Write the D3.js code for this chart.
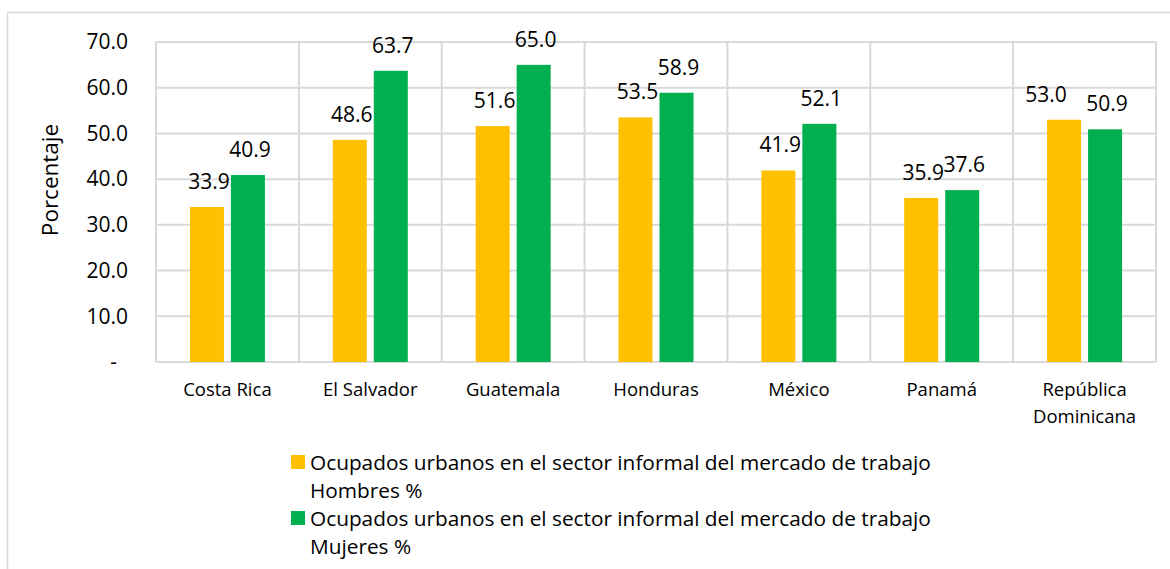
<!DOCTYPE html>
<html>
<head>
<meta charset="utf-8">
<style>
body{
  margin:0;
  background:#fff;
}
text{
  font-family:"Open Sans", sans-serif;
  fill:#000;
}
</style>
</head>
<body>
<svg id="chart"></svg>
<script src="https://cdn.jsdelivr.net/npm/d3@7"></script>
<script>
var categories = ["Costa Rica", "El Salvador", "Guatemala", "Honduras", "México", "Panamá", "República Dominicana"];
var hombres = [33.9, 48.6, 51.6, 53.5, 41.9, 35.9, 53.0];
var mujeres = [40.9, 63.7, 65.0, 58.9, 52.1, 37.6, 50.9];
var seriesNames = [
    ["Ocupados urbanos en el sector informal del mercado de trabajo", "Hombres %"],
    ["Ocupados urbanos en el sector informal del mercado de trabajo", "Mujeres %"]
];
var yTicks = [0, 10, 20, 30, 40, 50, 60, 70];

var width = 1170, height = 569;
var colors = ["#FFC000", "#00B050"];
var grid = "#D9D9D9";

var svg = d3.select("#chart")
    .attr("width", width)
    .attr("height", height);

// outer chart border
svg.append("rect")
    .attr("x", 7.5).attr("y", 12.5)
    .attr("width", 1200).attr("height", 600)
    .attr("fill", "#fff")
    .attr("stroke", grid)
    .attr("stroke-width", 1.5);

var plot = {left: 156, right: 1156, top: 42, bottom: 362};

var x = d3.scaleBand().domain(categories).range([plot.left, plot.right]);
var y = d3.scaleLinear().domain([0, 70]).range([plot.bottom, plot.top]);

// two bars per group: width 34, gap 7
var bw = x.bandwidth();
var step = 41;
var xs = d3.scaleBand().domain([0, 1]).range([0, bw])
    .paddingInner(7 / step)
    .paddingOuter((bw - (2 * step - 7)) / (2 * step));

// horizontal gridlines
svg.append("g")
    .selectAll("line").data(yTicks)
    .enter().append("line")
    .attr("x1", plot.left).attr("x2", plot.right)
    .attr("y1", function (d) { return y(d); })
    .attr("y2", function (d) { return y(d); })
    .attr("stroke", grid).attr("stroke-width", 2);

// vertical gridlines at category boundaries
var bounds = categories.map(function (c) { return x(c); }).concat([plot.right]);
svg.append("g")
    .selectAll("line").data(bounds)
    .enter().append("line")
    .attr("x1", function (d) { return d; }).attr("x2", function (d) { return d; })
    .attr("y1", plot.top).attr("y2", plot.bottom)
    .attr("stroke", grid).attr("stroke-width", 2);

// y axis labels
var yAxis = svg.append("g")
    .attr("transform", "translate(" + plot.left + ",0)")
    .call(d3.axisLeft(y).tickValues(yTicks).tickSize(0).tickPadding(28)
        .tickFormat(function (d) { return d === 0 ? "-" : d3.format(".1f")(d); }));
yAxis.select(".domain").remove();
yAxis.selectAll("text")
    .attr("font-size", "21px")
    .attr("font-family", "Open Sans, sans-serif")
    .attr("fill", "#000")
    .attr("dx", function (d) { return d === 0 ? -11 : 0; });

// y axis title
svg.append("text")
    .attr("transform", "translate(58,180) rotate(-90)")
    .attr("text-anchor", "middle")
    .attr("font-size", "22.5px")
    .text("Porcentaje");

// bars
var groups = [hombres, mujeres];
groups.forEach(function (vals, si) {
    svg.append("g").selectAll("rect").data(vals)
        .enter().append("rect")
        .attr("x", function (d, i) { return x(categories[i]) + xs(si); })
        .attr("y", function (d) { return y(d); })
        .attr("width", xs.bandwidth())
        .attr("height", function (d) { return y(0) - y(d); })
        .attr("fill", colors[si]);

    svg.append("g").selectAll("text").data(vals)
        .enter().append("text")
        .attr("x", function (d, i) {
            var cx = x(categories[i]) + xs(si) + xs.bandwidth() / 2 + 2;
            // first label nudged left when it sits above its neighbour
            if (si === 0 && d > mujeres[i]) cx -= 20;
            return cx;
        })
        .attr("y", function (d) { return y(d) - 18; })
        .attr("text-anchor", "middle")
        .attr("font-size", "21px")
        .text(function (d) { return d3.format(".1f")(d); });
});

// category labels, wrapped when too wide
var catG = svg.append("g");
categories.forEach(function (c) {
    var t = catG.append("text")
        .attr("x", x(c) + bw / 2)
        .attr("y", 396)
        .attr("text-anchor", "middle")
        .attr("font-size", "18.5px")
        .text(c);
    if (t.node().getComputedTextLength() > bw - 10) {
        var words = c.split(" ");
        t.text(null);
        words.forEach(function (w, k) {
            t.append("tspan")
                .attr("x", x(c) + bw / 2)
                .attr("dy", k === 0 ? 0 : 27)
                .text(w);
        });
    }
});

// legend
var legend = svg.append("g");
seriesNames.forEach(function (lines, si) {
    var top = 455 + si * 56;
    legend.append("rect")
        .attr("x", 291).attr("y", top)
        .attr("width", 14).attr("height", 14)
        .attr("fill", colors[si]);
    lines.forEach(function (l, k) {
        legend.append("text")
            .attr("x", 310)
            .attr("y", top + 14.5 + k * 28)
            .attr("font-size", "20.8px")
            .text(l);
    });
});
</script>
</body>
</html>
